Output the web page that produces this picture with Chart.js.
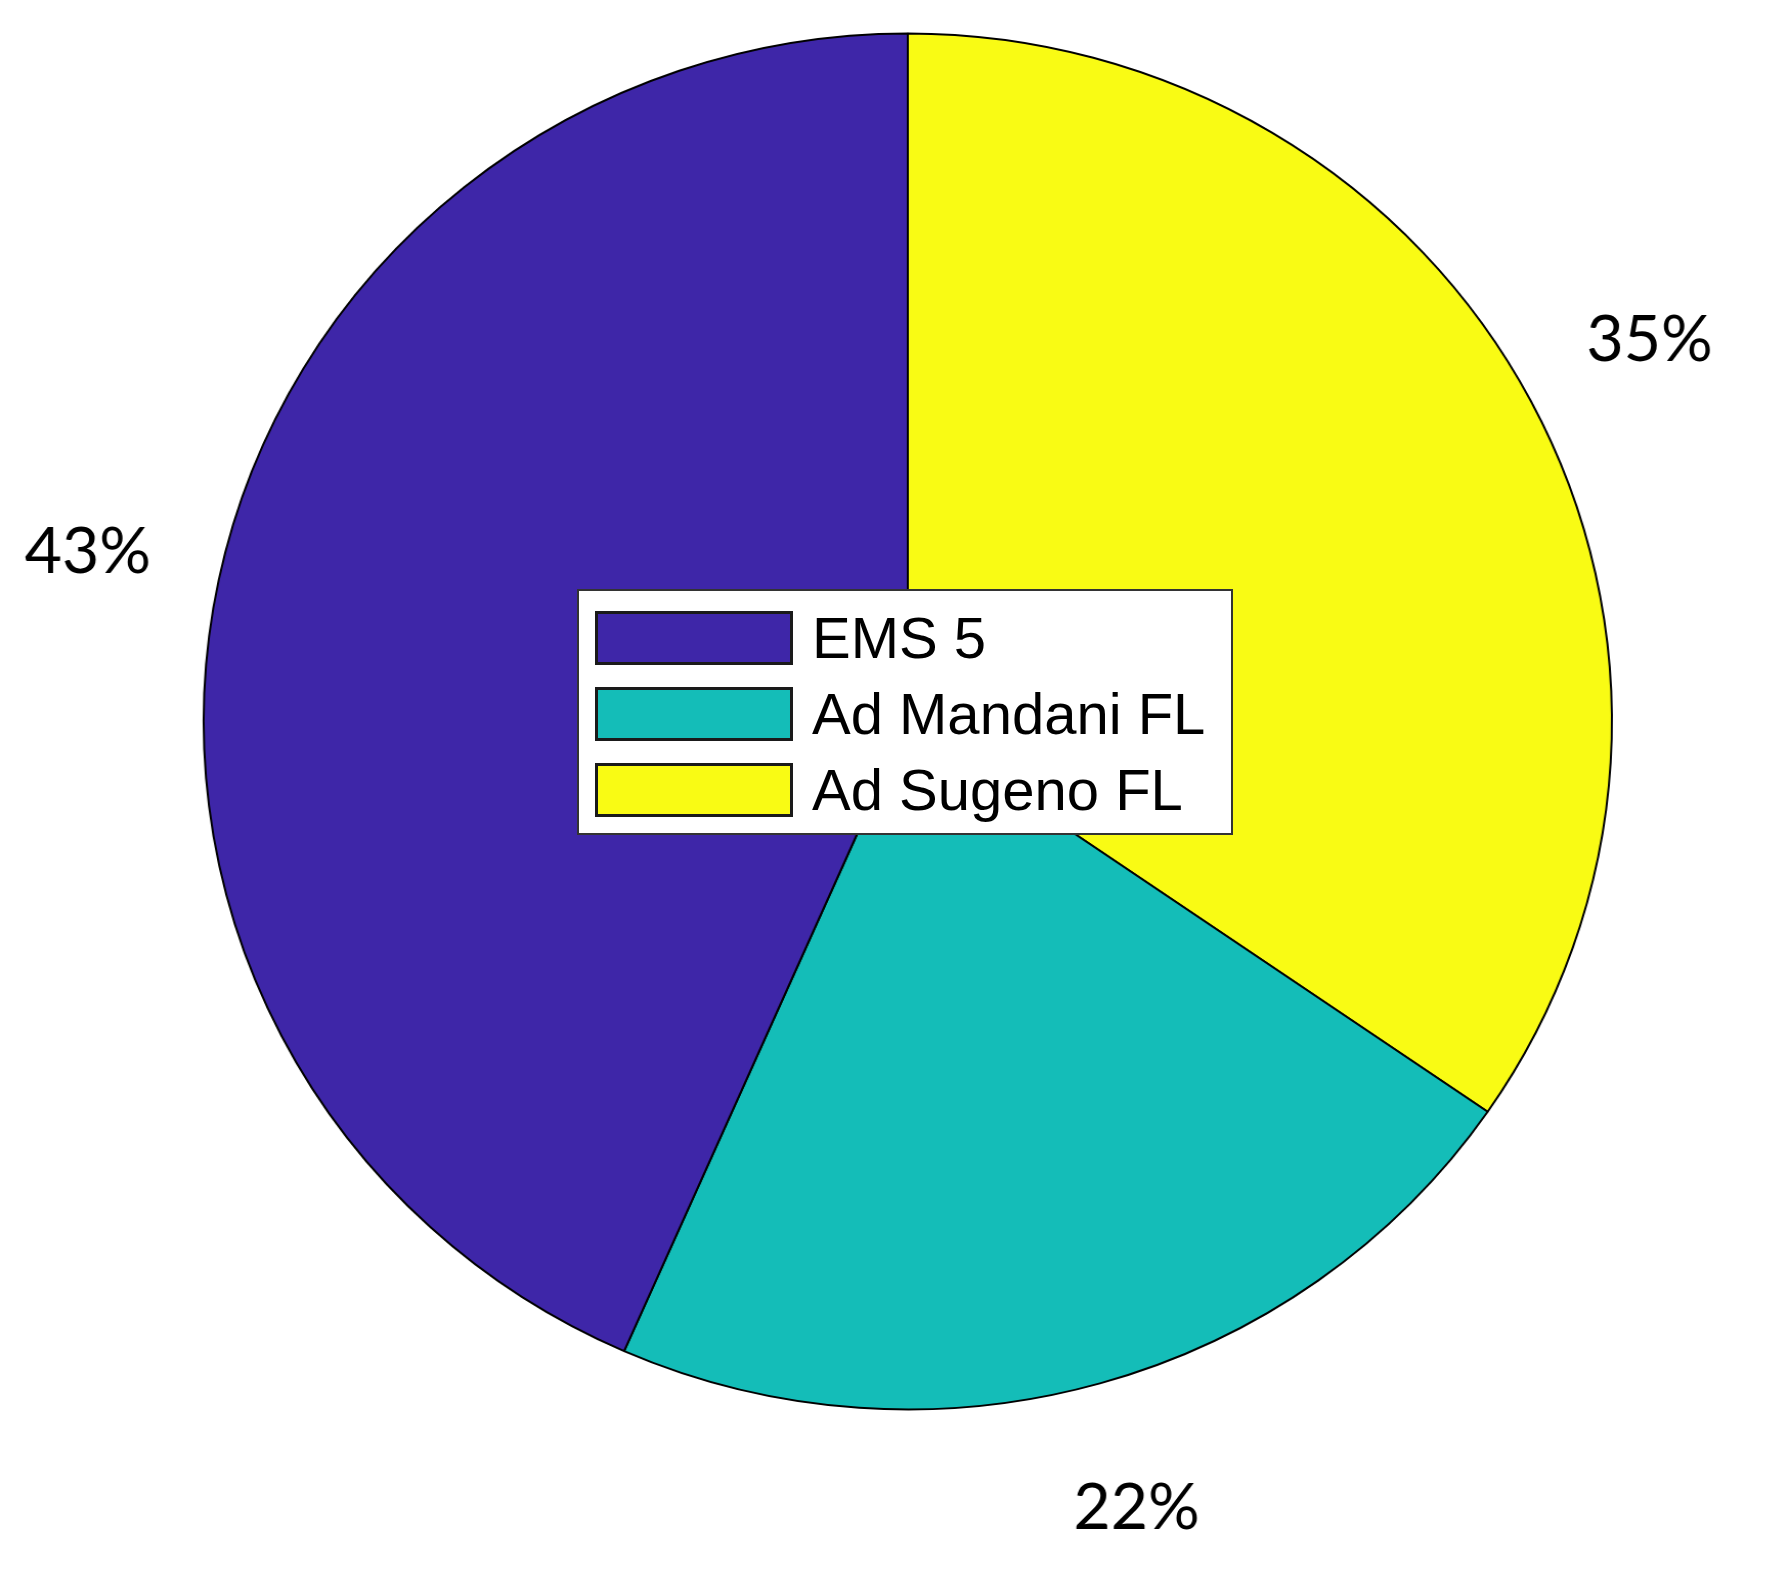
<!DOCTYPE html>
<html lang="en">
  <head>
    <meta charset="UTF-8" />
    <meta name="viewport" content="width=device-width, initial-scale=1.0" />
    <script src="https://cdn.jsdelivr.net/npm/chart.js@4.4.0/dist/chart.umd.min.js"></script>
    <title>Pie</title>
    <style>
      html, body { margin: 0; padding: 0; background: #fff; }
      #wrap { position: relative; width: 1790px; height: 1571px; overflow: hidden; }
      #myChart { position: absolute; left: 0; top: 0; }
      #legend {
        position: absolute; left: 577px; top: 589px; width: 656px; height: 246px;
        box-sizing: border-box; border: 2px solid #333; background: #fff;
        font-family: "Liberation Sans", Arial, sans-serif;
      }
      .row { position: absolute; left: 16px; height: 54px; }
      .sw { position: absolute; left: 0; top: 0; width: 198px; height: 54px; box-sizing: border-box; border: 3px solid #1a1a1a; }
      .lab {
        position: absolute; left: 217px; top: -4px; font-size: 58px; line-height: 62px;
        white-space: nowrap; color: #000;
      }
    </style>
  </head>
  <body>
    <div id="wrap">
      <!-- the original figure is slightly wider than tall, so the canvas is stretched a bit -->
      <canvas id="myChart" width="1749" height="1571" style="width:1790px;height:1571px"></canvas>
      <div id="legend"></div>
    </div>
    <script>
      // legend order (as in the figure)
      var labels = ["EMS 5", "Ad Mandani FL", "Ad Sugeno FL"];
      var values = [43.4, 22.0, 34.6];
      var colors = ["#3e26a8", "#14bdb8", "#f9fb14"];

      var total = values.reduce(function (a, b) { return a + b; }, 0);

      // pie goes counter-clockwise from the top, so feed it reversed
      var pieLabels = labels.slice().reverse();
      var pieValues = values.slice().reverse();
      var pieColors = colors.slice().reverse();

      var pctLabels = {
        id: "pctLabels",
        afterDatasetsDraw: function (chart) {
          var ctx = chart.ctx;
          var meta = chart.getDatasetMeta(0);
          ctx.save();
          ctx.font = "63px Lato, 'Open Sans', sans-serif";
          ctx.fillStyle = "#000";
          ctx.textAlign = "center";
          ctx.textBaseline = "middle";
          meta.data.forEach(function (arc, i) {
            var p = arc.getProps(["x", "y", "startAngle", "endAngle", "outerRadius"], true);
            var mid = (p.startAngle + p.endAngle) / 2;
            var r = p.outerRadius * 1.19;
            var txt = Math.round(pieValues[i] / total * 100) + "%";
            ctx.fillText(txt, p.x + Math.cos(mid) * r, p.y + Math.sin(mid) * r);
          });
          ctx.restore();
        },
      };

      var ctx = document.getElementById("myChart");
      var myChart = new Chart(ctx, {
        type: "pie",
        data: {
          labels: pieLabels,
          datasets: [
            {
              data: pieValues,
              backgroundColor: pieColors,
              borderColor: "#000",
              borderWidth: 2,
              radius: 688,
            },
          ],
        },
        options: {
          responsive: false,
          animation: false,
          layout: { padding: { left: 25, right: 0, top: 0, bottom: 128 } },
          plugins: {
            legend: { display: false },
            tooltip: { enabled: false },
            title: { display: false },
          },
        },
        plugins: [pctLabels],
      });

      // boxed legend in the middle of the pie
      var leg = document.getElementById("legend");
      labels.forEach(function (l, i) {
        var row = document.createElement("div");
        row.className = "row";
        row.style.top = (20 + i * 76) + "px";
        var sw = document.createElement("div");
        sw.className = "sw";
        sw.style.background = colors[i];
        var t = document.createElement("div");
        t.className = "lab";
        t.textContent = l;
        row.appendChild(sw);
        row.appendChild(t);
        leg.appendChild(row);
      });
    </script>
  </body>
</html>
